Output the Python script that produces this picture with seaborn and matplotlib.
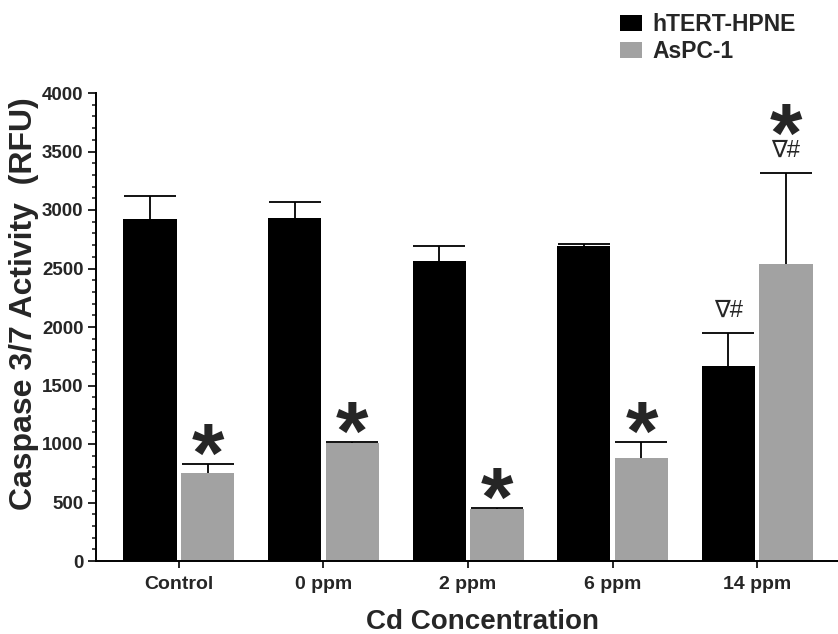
import numpy as np
import pandas as pd
import matplotlib
matplotlib.use("Agg")
import matplotlib.pyplot as plt
from matplotlib.ticker import MultipleLocator
import seaborn as sns

# Caspase 3/7 activity (mean and SEM) per Cd concentration
concentrations = ["Control", "0 ppm", "2 ppm", "6 ppm", "14 ppm"]
cell_lines = ["hTERT-HPNE", "AsPC-1"]
hpne_mean = [2920, 2935, 2565, 2690, 1670]
hpne_sem = [200, 135, 130, 20, 280]
aspc_mean = [755, 1005, 443, 880, 2535]
aspc_sem = [72, 10, 8, 135, 785]

# significance marks above each bar ("" = none)
hpne_marks = ["", "", "", "", "∇#"]
aspc_marks = ["*", "*", "*", "*", "∇#*"]

BLACK = "#000000"
GREY = "#a2a2a2"
FONT = ["Liberation Sans", "DejaVu Sans"]

sns.set_theme(style="ticks")
plt.rcParams["font.family"] = FONT
plt.rcParams["font.weight"] = "bold"

df = pd.DataFrame({
    "conc": concentrations * 2,
    "line": [cell_lines[0]] * len(concentrations) + [cell_lines[1]] * len(concentrations),
    "value": hpne_mean + aspc_mean,
})

fig = plt.figure(figsize=(8.38, 6.34), dpi=100)
ax = fig.add_axes([96 / 838, 1 - 561 / 634, (838 - 96) / 838, 468 / 634])

sns.barplot(data=df, x="conc", y="value", hue="line", order=concentrations,
            hue_order=cell_lines, palette=[BLACK, GREY], saturation=1,
            width=0.8, gap=0.08, errorbar=None, linewidth=0, ax=ax)

# one-sided (upper) SEM bars
for cont, means, sems in zip(ax.containers, [hpne_mean, aspc_mean], [hpne_sem, aspc_sem]):
    xs = [p.get_x() + p.get_width() / 2 for p in cont.patches]
    _, caps, _ = ax.errorbar(xs, means, yerr=[np.zeros(len(sems)), sems], fmt="none",
                             ecolor="black", elinewidth=1.3, capsize=19, capthick=1.3,
                             zorder=3)
    caps[0].set_visible(False)


def mark_bars(cont, means, sems, marks):
    """Place significance symbols above the error-bar caps."""
    for p, m, s, mk in zip(cont.patches, means, sems, marks):
        x = p.get_x() + p.get_width() / 2
        top = m + s
        star_off = -12.5
        if "∇" in mk:
            ax.annotate("∇#", (x, top), xytext=(0, 11.5), textcoords="offset points",
                        ha="center", va="baseline", fontsize=17, fontweight="normal",
                        family=FONT)
            star_off = 8
        if "*" in mk:
            ax.annotate("*", (x, top), xytext=(0, star_off), textcoords="offset points",
                        ha="center", va="baseline", fontsize=60, fontweight="bold",
                        family=FONT)


mark_bars(ax.containers[0], hpne_mean, hpne_sem, hpne_marks)
mark_bars(ax.containers[1], aspc_mean, aspc_sem, aspc_marks)

ax.set_ylim(0, 4000)
ax.set_xlim(-0.574, 4.56)
ax.yaxis.set_major_locator(MultipleLocator(500))
ax.yaxis.set_minor_locator(MultipleLocator(100))
ax.tick_params(axis="y", which="major", length=6, width=1.4, pad=3, labelsize=13.5)
ax.tick_params(axis="y", which="minor", length=3, width=1.2)
ax.tick_params(axis="x", which="major", length=5, width=1.4, pad=6, labelsize=14)
for lab in ax.get_xticklabels() + ax.get_yticklabels():
    lab.set_fontweight("bold")

sns.despine(ax=ax)
for side in ["left", "bottom"]:
    ax.spines[side].set_linewidth(1.4)
    ax.spines[side].set_color("black")

ax.set_xlabel("Cd Concentration", fontsize=20, fontweight="bold")
ax.set_ylabel("Caspase 3/7 Activity  (RFU)", fontsize=23, fontweight="bold")
ax.xaxis.set_label_coords((482 - 96) / 742, (561 - 622) / 468)
ax.xaxis.label.set_va("center")
ax.yaxis.set_label_coords((24 - 96) / 742, (561 - 304) / 468)
ax.yaxis.label.set_va("center")

sns.move_legend(ax, loc="upper left", bbox_to_anchor=(611 / 838, 1 - 4 / 634),
                bbox_transform=fig.transFigure, frameon=False, title=None,
                fontsize=16.5, handlelength=0.95, handleheight=0.7,
                handletextpad=0.45, labelspacing=0.18, borderaxespad=0)
for t in ax.get_legend().get_texts():
    t.set_fontweight("bold")

fig.savefig("out.png", dpi=100)
